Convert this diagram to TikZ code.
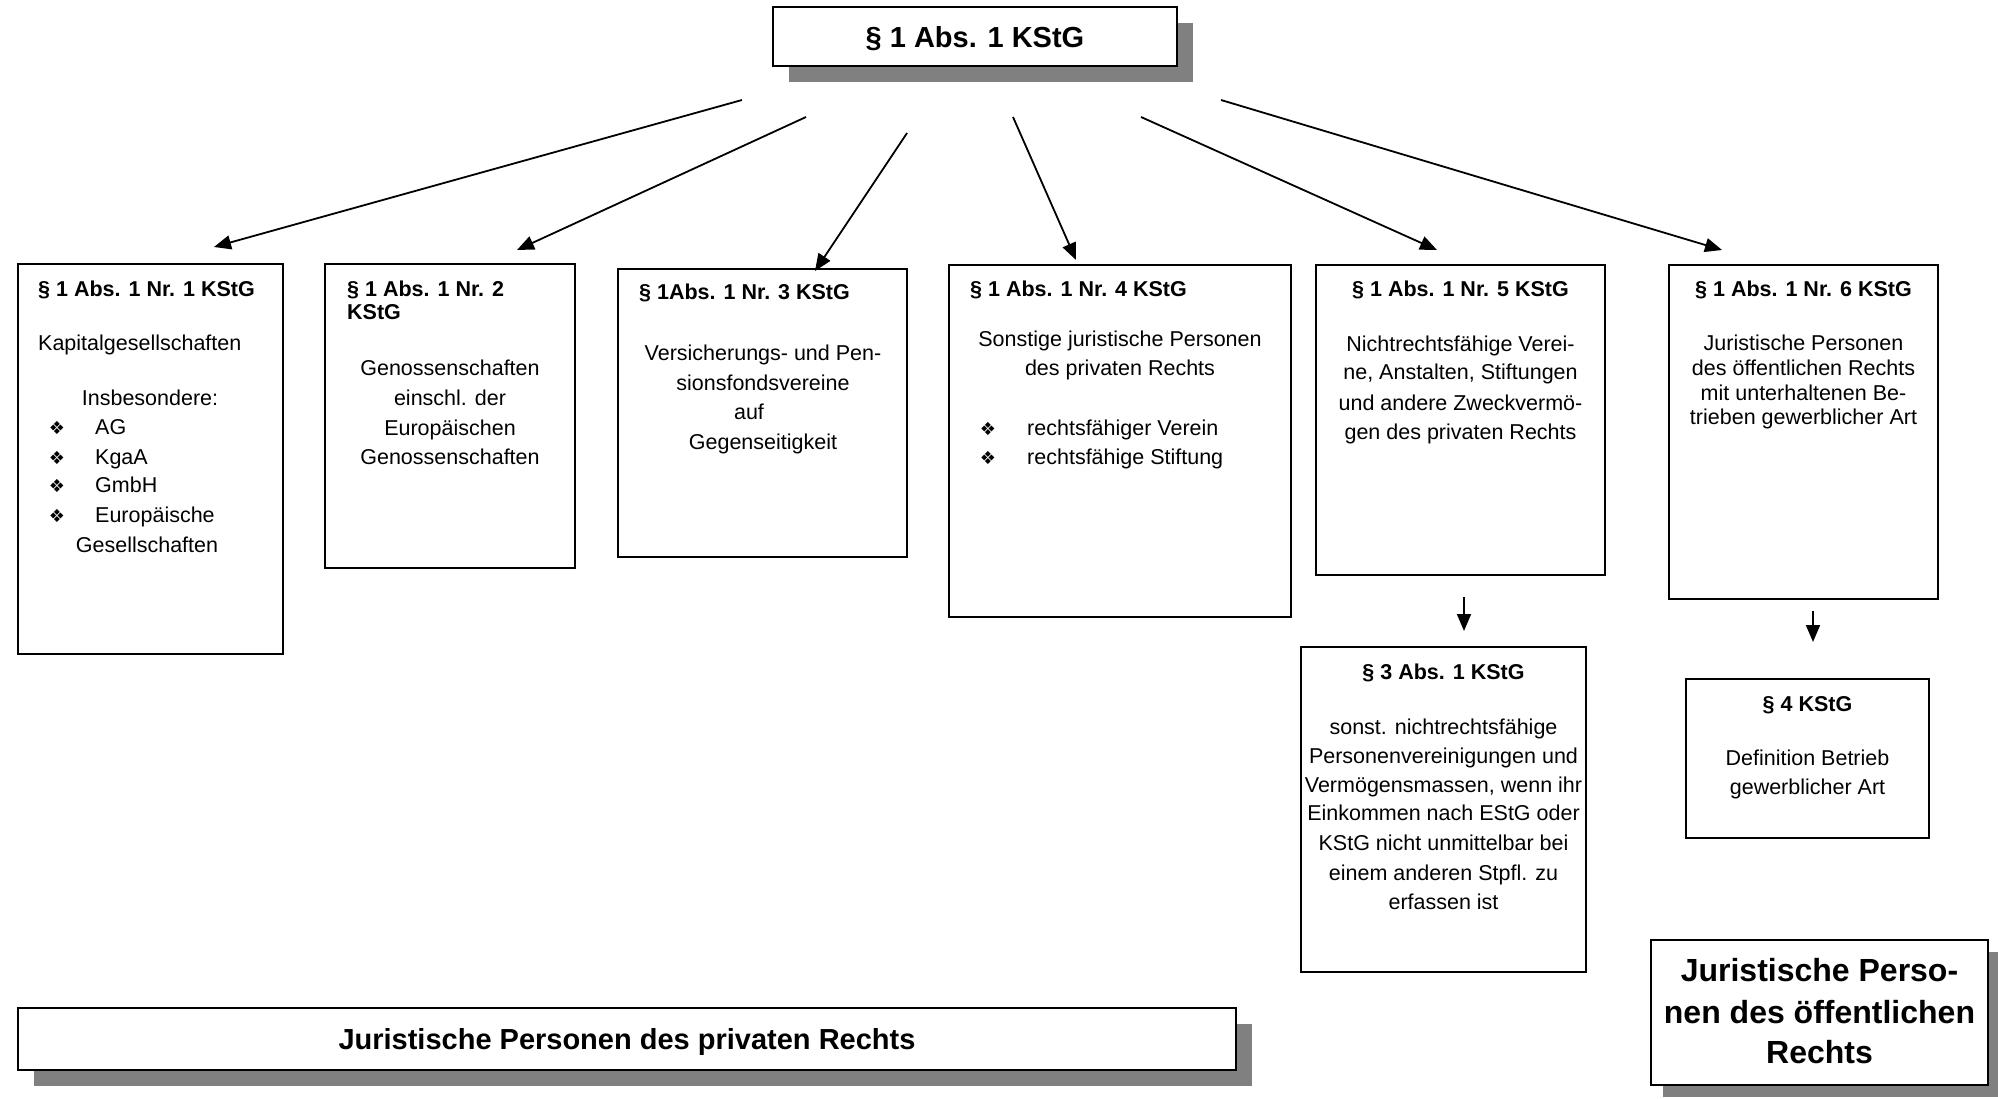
\documentclass[tikz,border=0pt]{standalone}
\usepackage{fontspec}
\setmainfont{Liberation Sans}
\newfontfamily\dejavu{DejaVu Sans}
\usetikzlibrary{arrows.meta,shadows}
\definecolor{shadowgray}{RGB}{128,128,128}
\begin{document}
\begin{tikzpicture}[x=1pt,y=-1pt,
  box/.style={draw, line width=2pt, fill=white, inner sep=0pt, rectangle},
  sbox/.style={box, drop shadow={shadow xshift=16pt, shadow yshift=-16pt, fill=shadowgray, opacity=1}},
  sboxs/.style={box, drop shadow={shadow xshift=12pt, shadow yshift=-12pt, fill=shadowgray, opacity=1}},
  txt/.style={inner sep=0pt, anchor=base, font=\fontsize{21.5}{26}\selectfont},
  txtl/.style={txt, anchor=base west},
  hd/.style={txt, font=\fontsize{21.5}{26}\selectfont\bfseries},
  hdl/.style={hd, anchor=base west},
  big/.style={inner sep=0pt, anchor=base, font=\fontsize{29}{34}\selectfont\bfseries},
  bigger/.style={inner sep=0pt, anchor=base, font=\fontsize{32}{38}\selectfont\bfseries},
  bul/.style={inner sep=0pt, anchor=base, font=\dejavu\fontsize{18}{18}\selectfont},
  arr/.style={line width=1.8pt, -{Triangle[length=17pt,width=14pt]}}
]
\useasboundingbox (0,0) rectangle (1998,1099);

% boxes
\node[sbox, minimum width=404pt, minimum height=59pt] (top) at (975,36.5) {};
\node[box, minimum width=265pt, minimum height=390pt] (b1) at (150.5,459) {};
\node[box, minimum width=250pt, minimum height=304pt] (b2) at (450,416) {};
\node[box, minimum width=289pt, minimum height=288pt] (b3) at (762.5,413) {};
\node[box, minimum width=342pt, minimum height=352pt] (b4) at (1120,441) {};
\node[box, minimum width=289pt, minimum height=310pt] (b5) at (1460.5,420) {};
\node[box, minimum width=269pt, minimum height=334pt] (b6) at (1803.5,432) {};
\node[box, minimum width=285pt, minimum height=325pt] (b7) at (1443.5,809.5) {};
\node[box, minimum width=243pt, minimum height=159pt] (b8) at (1807.5,758.5) {};
\node[sboxs, minimum width=337pt, minimum height=145pt] (br) at (1819.5,1012.5) {};
\node[sbox, minimum width=1218pt, minimum height=62pt] (bl) at (627,1039) {};

% top title
\node[big] (toptxt) at (975,48) {§ 1 Abs. 1 KStG};

% box 1
\node[hdl] (b1h) at (38,297) {§ 1 Abs. 1 Nr. 1 KStG};
\node[txtl] (b1a) at (38,351) {Kapitalgesellschaften};
\node[txt] (b1b) at (150,405) {Insbesondere:};
\node[bul] (b1u1) at (57,434) {❖};
\node[txtl] (b1c1) at (95,434) {AG};
\node[bul] (b1u2) at (57,464) {❖};
\node[txtl] (b1c2) at (95,464) {KgaA};
\node[bul] (b1u3) at (57,492) {❖};
\node[txtl] (b1c3) at (95,492) {GmbH};
\node[bul] (b1u4) at (57,522) {❖};
\node[txtl] (b1c4) at (95,522) {Europäische};
\node[txt] (b1d) at (147,552) {Gesellschaften};

% box 2
\node[hdl] (b2h1) at (347,297) {§ 1 Abs. 1 Nr. 2};
\node[hdl] (b2h2) at (347,320) {KStG};
\node[txt] (b2a) at (450,376) {Genossenschaften};
\node[txt] (b2b) at (450,406) {einschl. der};
\node[txt] (b2c) at (450,435) {Europäischen};
\node[txt] (b2d) at (450,464) {Genossenschaften};

% box 3
\node[hdl] (b3h) at (639,300) {§ 1Abs. 1 Nr. 3 KStG};
\node[txt] (b3a) at (763,360) {Versicherungs- und Pen-};
\node[txt] (b3b) at (763,390) {sionsfondsvereine};
\node[txt] (b3c) at (749,419) {auf};
\node[txt] (b3d) at (763,449) {Gegenseitigkeit};

% box 4
\node[hdl] (b4h) at (970,297) {§ 1 Abs. 1 Nr. 4 KStG};
\node[txt] (b4a) at (1120,347) {Sonstige juristische Personen};
\node[txt] (b4b) at (1120,375) {des privaten Rechts};
\node[bul] (b4u1) at (988,435) {❖};
\node[txtl] (b4c1) at (1027,435) {rechtsfähiger Verein};
\node[bul] (b4u2) at (988,464) {❖};
\node[txtl] (b4c2) at (1027,464) {rechtsfähige Stiftung};

% box 5
\node[hd] (b5h) at (1460.5,297) {§ 1 Abs. 1 Nr. 5 KStG};
\node[txt] (b5a) at (1460.5,352) {Nichtrechtsfähige Verei-};
\node[txt] (b5b) at (1460.5,380) {ne, Anstalten, Stiftungen};
\node[txt] (b5c) at (1460.5,410) {und andere Zweckvermö-};
\node[txt] (b5d) at (1460.5,439) {gen des privaten Rechts};

% box 6
\node[hd] (b6h) at (1803.5,297) {§ 1 Abs. 1 Nr. 6 KStG};
\node[txt] (b6a) at (1803.5,351) {Juristische Personen};
\node[txt] (b6b) at (1803.5,375) {des öffentlichen Rechts};
\node[txt] (b6c) at (1803.5,400) {mit unterhaltenen Be-};
\node[txt] (b6d) at (1803.5,424) {trieben gewerblicher Art};

% box 7
\node[hd] (b7h) at (1443.5,679) {§ 3 Abs. 1 KStG};
\node[txt] (b7a) at (1443.5,734) {sonst. nichtrechtsfähige};
\node[txt] (b7b) at (1443.5,763) {Personenvereinigungen und};
\node[txt] (b7c) at (1443.5,792) {Vermögensmassen, wenn ihr};
\node[txt] (b7d) at (1443.5,820) {Einkommen nach EStG oder};
\node[txt] (b7e) at (1443.5,850) {KStG nicht unmittelbar bei};
\node[txt] (b7f) at (1443.5,880) {einem anderen Stpfl. zu};
\node[txt] (b7g) at (1443.5,909) {erfassen ist};

% box 8
\node[hd] (b8h) at (1807.5,711) {§ 4 KStG};
\node[txt] (b8a) at (1807.5,765) {Definition Betrieb};
\node[txt] (b8b) at (1807.5,794) {gewerblicher Art};

% bottom right
\node[bigger] (bra) at (1819.5,981) {Juristische Perso-};
\node[bigger] (brb) at (1819.5,1023) {nen des öffentlichen};
\node[bigger] (brc) at (1819.5,1063) {Rechts};

% bottom left
\node[big] (bla) at (627,1049) {Juristische Personen des privaten Rechts};

% arrows
\coordinate (a1s) at (742,100);  \coordinate (a1e) at (214,247);
\coordinate (a2s) at (806,117);  \coordinate (a2e) at (517,250);
\coordinate (a3s) at (907,133);  \coordinate (a3e) at (815,271);
\coordinate (a4s) at (1013,117); \coordinate (a4e) at (1076,260);
\coordinate (a5s) at (1141,117); \coordinate (a5e) at (1437,250);
\coordinate (a6s) at (1221,100); \coordinate (a6e) at (1722,250);
\coordinate (a7s) at (1464,597); \coordinate (a7e) at (1464,631);
\coordinate (a8s) at (1813,611); \coordinate (a8e) at (1813,642);
\draw[arr] (a1s) -- (a1e);
\draw[arr] (a2s) -- (a2e);
\draw[arr] (a3s) -- (a3e);
\draw[arr] (a4s) -- (a4e);
\draw[arr] (a5s) -- (a5e);
\draw[arr] (a6s) -- (a6e);
\draw[arr] (a7s) -- (a7e);
\draw[arr] (a8s) -- (a8e);
\end{tikzpicture}
\end{document}
